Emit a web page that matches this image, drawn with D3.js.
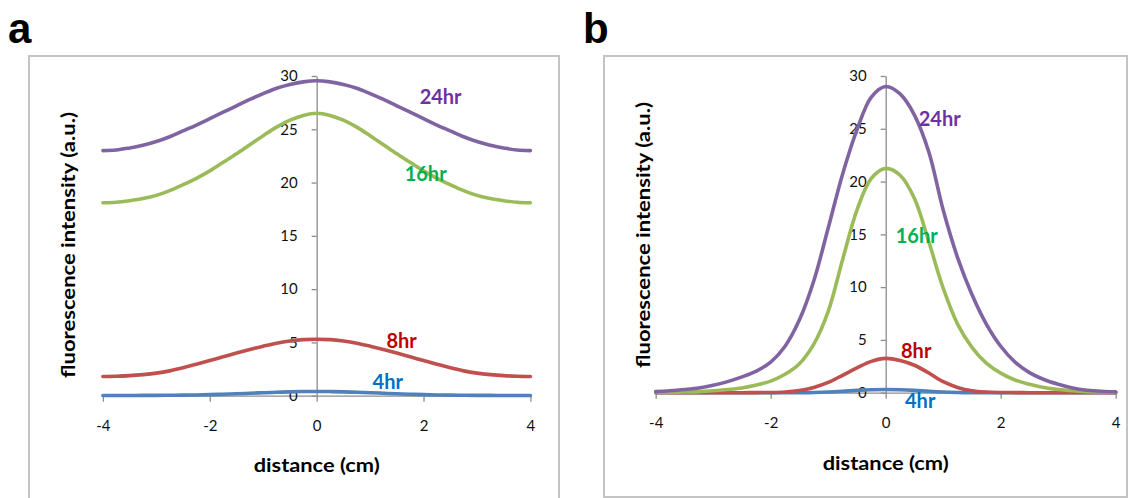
<!DOCTYPE html>
<html>
<head>
<meta charset="utf-8">
<script src="https://cdn.jsdelivr.net/npm/d3@7"></script>
<style>
  html, body { margin: 0; padding: 0; background: #fff; }
  svg { display: block; }
</style>
</head>
<body>
<svg id="chart" width="1130" height="498"></svg>
<script>
// Tick labels shared by both panels
const xTicks = [-4, -2, 0, 2, 4];
const yTicks = [0, 5, 10, 15, 20, 25, 30];

// Series names
const seriesNames = ["4hr", "8hr", "16hr", "24hr"];

// Panel a: distance samples (cm) and intensity profiles
const distA = [-4, -3.75, -3.5, -3.25, -3, -2.75, -2.5, -2.25, -2, -1.75, -1.5, -1.25, -1, -0.75, -0.5, -0.25, 0,
               0.25, 0.5, 0.75, 1, 1.25, 1.5, 1.75, 2, 2.25, 2.5, 2.75, 3, 3.25, 3.5, 3.75, 4];
const a4hr  = [0.02, 0.02, 0.02, 0.03, 0.03, 0.04, 0.05, 0.07, 0.1, 0.14, 0.18, 0.23, 0.28, 0.32, 0.36, 0.39, 0.4,
               0.39, 0.36, 0.32, 0.28, 0.23, 0.18, 0.14, 0.1, 0.07, 0.05, 0.04, 0.03, 0.03, 0.02, 0.02, 0.02];
const a8hr  = [1.8, 1.82, 1.88, 1.98, 2.12, 2.33, 2.62, 2.95, 3.3, 3.65, 4.0, 4.33, 4.65, 4.93, 5.13, 5.26, 5.3,
               5.26, 5.13, 4.93, 4.65, 4.33, 4.0, 3.65, 3.3, 2.95, 2.62, 2.33, 2.12, 1.98, 1.88, 1.82, 1.8];
const a16hr = [18.1, 18.15, 18.3, 18.5, 18.8, 19.25, 19.8, 20.4, 21.1, 21.9, 22.7, 23.55, 24.4, 25.2, 25.85, 26.3, 26.5,
               26.3, 25.85, 25.2, 24.4, 23.55, 22.7, 21.9, 21.1, 20.4, 19.8, 19.25, 18.8, 18.5, 18.3, 18.15, 18.1];
const a24hr = [23.0, 23.05, 23.25, 23.5, 23.85, 24.3, 24.85, 25.4, 26.0, 26.6, 27.2, 27.8, 28.35, 28.85, 29.2, 29.45, 29.55,
               29.45, 29.2, 28.85, 28.35, 27.8, 27.2, 26.6, 26.0, 25.4, 24.85, 24.3, 23.85, 23.5, 23.25, 23.05, 23.0];

// Panel b: distance samples (cm) and intensity profiles
const distB = [-4, -3.75, -3.5, -3.25, -3, -2.75, -2.5, -2.25, -2, -1.75, -1.5, -1.25, -1, -0.75, -0.5, -0.25, 0,
               0.25, 0.5, 0.75, 1, 1.25, 1.5, 1.75, 2, 2.25, 2.5, 2.75, 3, 3.25, 3.5, 3.75, 4];
const b4hr  = [0, 0, 0, 0, 0, 0, 0, 0, 0, 0, 0, 0.02, 0.06, 0.13, 0.22, 0.28, 0.3,
               0.28, 0.22, 0.13, 0.06, 0.02, 0, 0, 0, 0, 0, 0, 0, 0, 0, 0, 0];
const b8hr  = [0, 0, 0, 0, 0, 0, 0, 0.01, 0.02, 0.07, 0.2, 0.5, 0.97, 1.65, 2.35, 2.97, 3.25,
               3.05, 2.6, 1.87, 1.04, 0.5, 0.18, 0.06, 0.02, 0.01, 0, 0, 0, 0, 0, 0, 0];
const b16hr = [0.02, 0.03, 0.06, 0.1, 0.18, 0.3, 0.45, 0.72, 1.1, 1.75, 2.75, 4.6, 7.7, 12.6, 17.3, 20.3, 21.25,
               20.6, 18.4, 14.3, 9.9, 6.5, 4.3, 2.8, 1.85, 1.2, 0.8, 0.5, 0.3, 0.18, 0.1, 0.06, 0.04];
const b24hr = [0.1, 0.18, 0.3, 0.45, 0.7, 1.05, 1.5, 2.05, 2.9, 4.4, 6.9, 10.6, 15.6, 20.7, 24.9, 28.0, 29.0,
               28.3, 26.3, 22.8, 17.3, 12.8, 9.3, 6.5, 4.4, 2.9, 1.9, 1.25, 0.8, 0.45, 0.24, 0.13, 0.08];

// Styling
const lineColors = { "4hr": "#4F81BD", "8hr": "#C0504D", "16hr": "#9BBB59", "24hr": "#8064A2" };
const textColors = { "4hr": "#0070C0", "8hr": "#C00000", "16hr": "#00B050", "24hr": "#7030A0" };
const labelFont = "Lato, 'Open Sans', sans-serif";

const svg = d3.select("#chart");

function drawPanel(cfg) {
  const g = svg.append("g");

  // outer frame
  g.append("rect")
    .attr("x", cfg.frame[0]).attr("y", cfg.frame[1])
    .attr("width", cfg.frame[2]).attr("height", cfg.frame[3])
    .attr("fill", "none").attr("stroke", "#C4C4C4").attr("stroke-width", 2);

  // panel letter
  g.append("text")
    .attr("x", cfg.letterPos[0]).attr("y", cfg.letterPos[1])
    .attr("font-family", "'Liberation Sans', Arial, sans-serif")
    .attr("font-weight", "bold").attr("font-size", 42)
    .attr("fill", "#000")
    .text(cfg.letter);

  const x = d3.scaleLinear().domain([-4, 4]).range(cfg.xRange);
  const y = d3.scaleLinear().domain([0, 30]).range(cfg.yRange);

  // x axis on y = 0
  const xAxis = g.append("g")
    .attr("transform", `translate(0,${y(0)})`)
    .call(d3.axisBottom(x).tickValues(xTicks).tickFormat(d => String(d))
      .tickSizeInner(6).tickSizeOuter(0).tickPadding(cfg.xPad));
  // y axis on x = 0
  const yAxis = g.append("g")
    .attr("transform", `translate(${x(0)},0)`)
    .call(d3.axisLeft(y).tickValues(yTicks).tickFormat(d => String(d))
      .tickSizeInner(5).tickSizeOuter(0).tickPadding(14));

  [xAxis, yAxis].forEach(ax => {
    ax.select(".domain").attr("stroke", "#8C8C8C").attr("stroke-width", 1.3);
    ax.selectAll(".tick line").attr("stroke", "#8C8C8C").attr("stroke-width", 1.3);
    ax.selectAll(".tick text")
      .attr("font-family", labelFont).attr("font-size", 15).attr("fill", "#111");
  });

  // profiles
  const line = d3.line()
    .x(d => x(d[0]))
    .y(d => y(d[1]))
    .curve(d3.curveCatmullRom.alpha(0.5));

  seriesNames.forEach(name => {
    const vals = cfg.series[name];
    const pts = cfg.dist.map((d, i) => [d, vals[i]]);
    g.append("path")
      .datum(pts)
      .attr("d", line)
      .attr("fill", "none")
      .attr("stroke", lineColors[name])
      .attr("stroke-width", 3.6)
      .attr("stroke-linejoin", "round")
      .attr("stroke-linecap", "round");
  });

  // series labels
  seriesNames.forEach(name => {
    const p = cfg.labels[name];
    g.append("text")
      .attr("x", x(p[0])).attr("y", y(p[1]))
      .attr("text-anchor", "middle")
      .attr("dominant-baseline", "central")
      .attr("font-family", labelFont).attr("font-weight", "bold").attr("font-size", 20)
      .attr("fill", textColors[name])
      .text(name);
  });

  // axis titles
  g.append("text")
    .attr("x", x(0)).attr("y", cfg.xTitleY)
    .attr("text-anchor", "middle")
    .attr("font-family", labelFont).attr("font-weight", "bold").attr("font-size", 19)
    .attr("textLength", 126).attr("lengthAdjust", "spacingAndGlyphs")
    .attr("fill", "#000")
    .text("distance (cm)");

  g.append("text")
    .attr("transform", `translate(${cfg.yTitle[0]},${cfg.yTitle[1]}) rotate(-90)`)
    .attr("text-anchor", "middle")
    .attr("font-family", labelFont).attr("font-weight", "bold").attr("font-size", 19)
    .attr("textLength", 266).attr("lengthAdjust", "spacingAndGlyphs")
    .attr("fill", "#000")
    .text("fluorescence intensity (a.u.)");
}

drawPanel({
  letter: "a",
  letterPos: [8, 43],
  frame: [29, 56, 530, 460],
  xRange: [102.9, 530.4],
  yRange: [395.7, 76],
  xPad: 19,
  dist: distA,
  series: { "4hr": a4hr, "8hr": a8hr, "16hr": a16hr, "24hr": a24hr },
  labels: { "24hr": [2.32, 28.16], "16hr": [2.04, 20.94], "8hr": [1.59, 5.23], "4hr": [1.33, 1.38] },
  xTitleY: 472,
  yTitle: [75, 245]
});

drawPanel({
  letter: "b",
  letterPos: [583, 43],
  frame: [604, 56, 523, 441],
  xRange: [655.7, 1115.7],
  yRange: [392.7, 76],
  xPad: 19,
  dist: distB,
  series: { "4hr": b4hr, "8hr": b8hr, "16hr": b16hr, "24hr": b24hr },
  labels: { "24hr": [0.94, 26.06], "16hr": [0.54, 14.93], "8hr": [0.53, 4.0], "4hr": [0.6, -0.69] },
  xTitleY: 470,
  yTitle: [650, 235]
});
</script>
</body>
</html>
